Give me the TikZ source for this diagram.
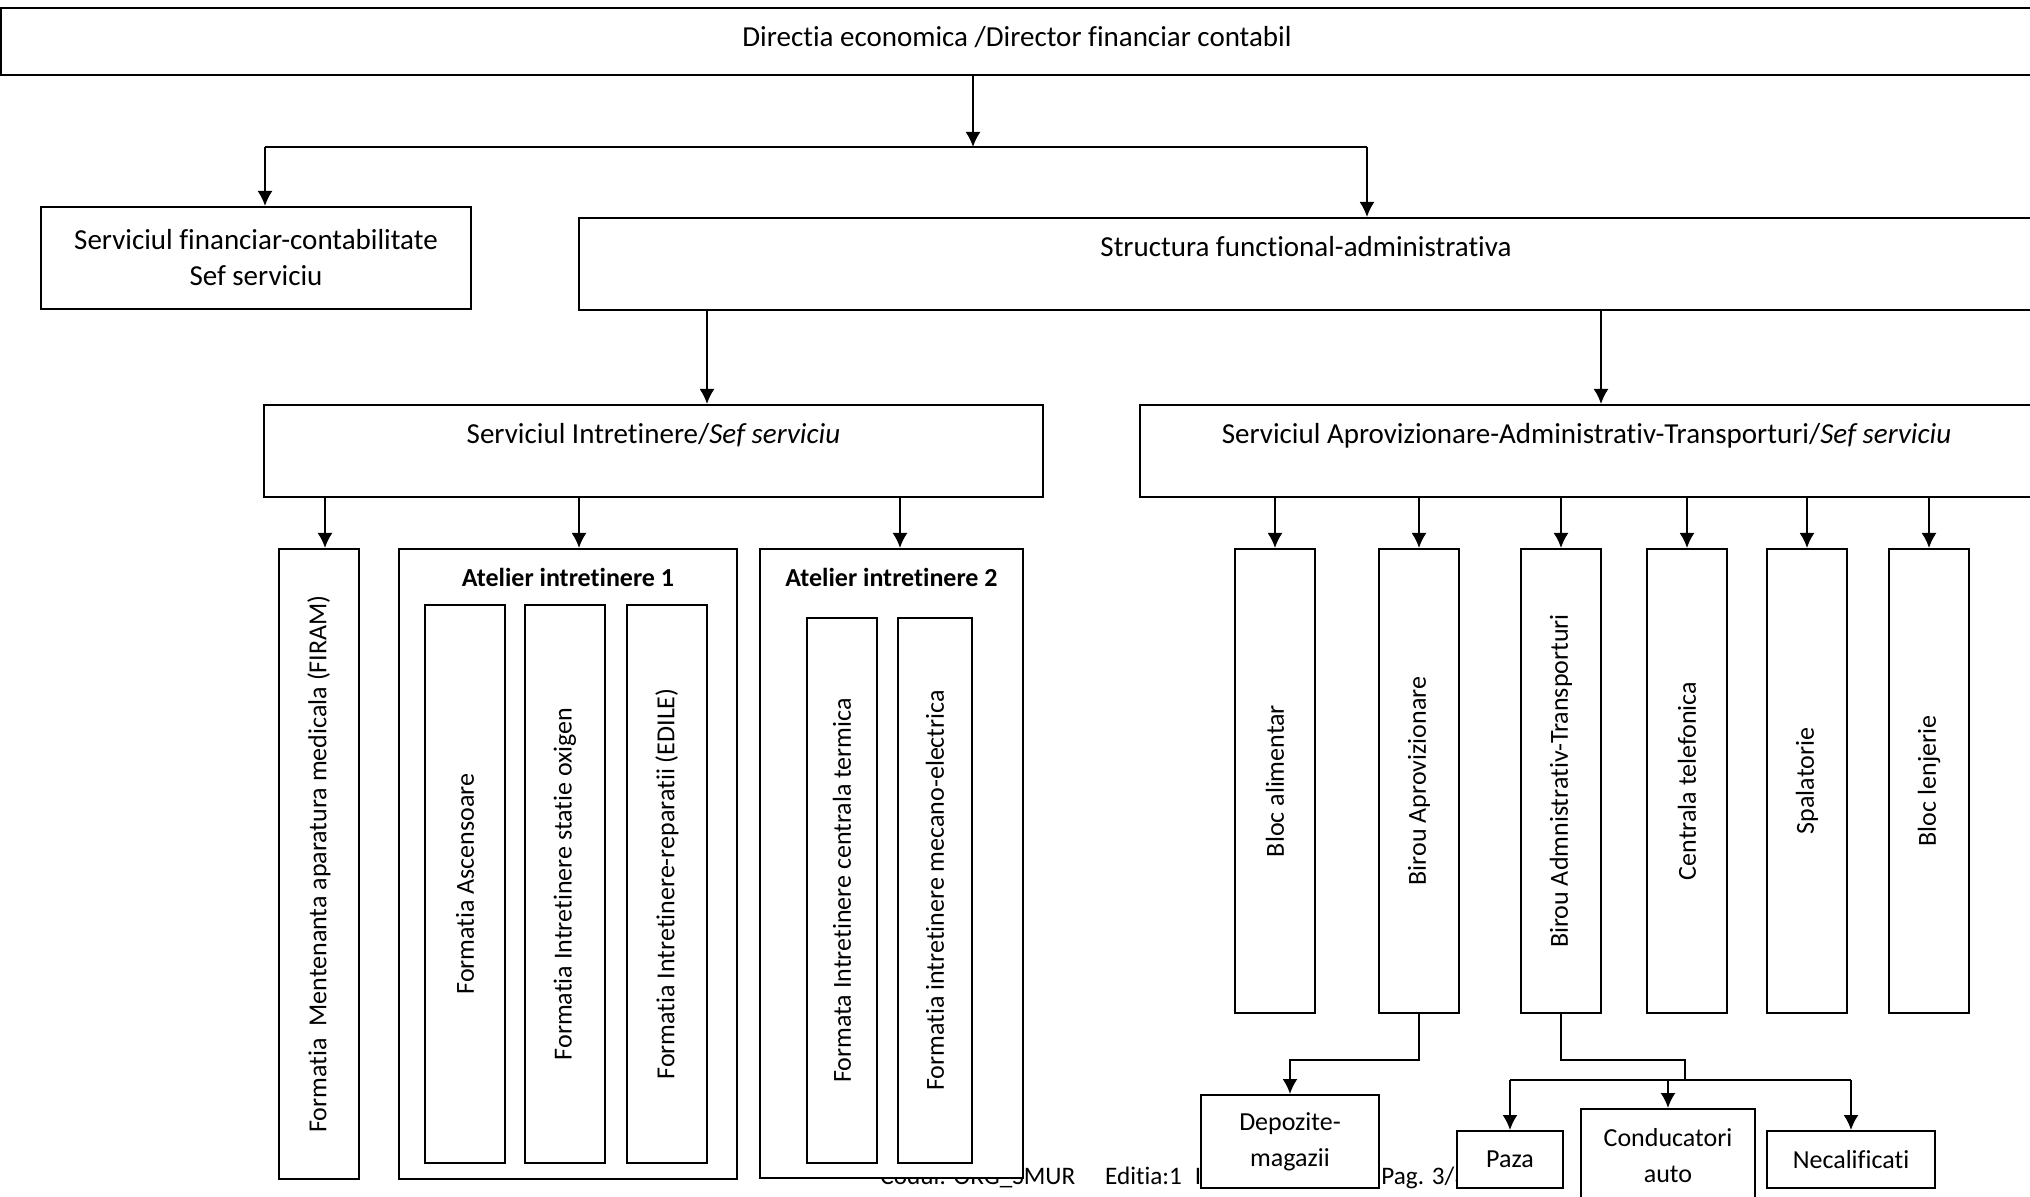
\documentclass[tikz,border=0pt]{standalone}
\usepackage{fontspec}
\setmainfont{Carlito}[Ligatures={NoCommon}]
\usepackage{graphicx}
\usetikzlibrary{arrows.meta}
\tikzset{
	big/.style={font=\fontsize{14.5}{18}\selectfont},
	small/.style={font=\fontsize{13}{18}\selectfont},
	foot/.style={font=\fontsize{12.6}{15}\selectfont, inner sep=0pt, anchor=base west},
	box/.style={draw, line width=1pt, fill=white, inner sep=0pt, align=center, small},
	toptext/.style={label={[big, anchor=base, yshift=-20pt, inner sep=0pt]north:{#1}}},
	title/.style={label={[small, anchor=base, yshift=-19.5pt, inner sep=0pt]north:{\bfseries #1}}},
	line/.style={line width=1pt},
	arr/.style={line width=1pt, -{Latex[length=7.5pt, width=7.5pt]}},
}
\newcommand{\vtext}[1]{\rotatebox{90}{#1}}

\begin{document}
\begin{tikzpicture}[x=0.5pt, y=-0.5pt]
	%%%%% START %%%%%
	\useasboundingbox (0,0) rectangle (2030,1197);
	
	% page footer, partly hidden by the boxes
	\node[foot] (codul) at (880,1184) {Codul: ORG\_SMUR\hspace{15pt}Editia:1\hspace{6.5pt}I};
	\node[foot] (pag) at (1381,1184) {Pag. 3/3};
	
	% upper levels
	\node[box, line width=1.3pt, minimum width=1016pt, minimum height=33.5pt, toptext={Directia economica /Director financiar contabil}] (dir) at (1017,41.5) {};
	\node[box, big, minimum width=215pt, minimum height=51pt] (fin) at (256,258) {Serviciul financiar-contabilitate\\Sef serviciu};
	\node[box, minimum width=727pt, minimum height=46pt, toptext={Structura functional-administrativa}] (struct) at (1306,264) {};
	\node[box, minimum width=389.5pt, minimum height=46pt, toptext={Serviciul Intretinere/\textit{Sef serviciu}}] (intr) at (653.5,451) {};
	\node[box, minimum width=446.5pt, minimum height=46pt, toptext={Serviciul Aprovizionare-Administrativ-Transporturi/\textit{Sef serviciu}}] (saat) at (1586.5,451) {};
	
	% Serviciul Intretinere
	\node[box, minimum width=40pt, minimum height=315pt] (firam) at (319,864) {\vtext{Formatia\ \ Mentenanta aparatura medicala (FIRAM)}};
	\node[box, minimum width=169pt, minimum height=315pt, title={Atelier intretinere 1}] (atA) at (568,864) {};
	\node[box, minimum width=40pt, minimum height=279pt] (asc) at (465,884) {\vtext{Formatia Ascensoare}};
	\node[box, minimum width=40pt, minimum height=279pt] (oxi) at (565,884) {\vtext{Formatia Intretinere statie oxigen}};
	\node[box, minimum width=40pt, minimum height=279pt] (edile) at (667,884) {\vtext{Formatia Intretinere-reparatii (EDILE)}};
	\node[box, minimum width=131.5pt, minimum height=314.5pt, title={Atelier intretinere 2}] (atB) at (891.5,863.5) {};
	\node[box, minimum width=35pt, minimum height=272.5pt] (term) at (842,890.5) {\vtext{Formata Intretinere centrala termica}};
	\node[box, minimum width=37pt, minimum height=272.5pt] (mec) at (935,890.5) {\vtext{Formatia intretinere mecano-electrica}};
	
	% Serviciul Aprovizionare-Administrativ-Transporturi
	\node[box, minimum width=40pt, minimum height=232pt] (alim) at (1275,781) {\vtext{Bloc alimentar}};
	\node[box, minimum width=40pt, minimum height=232pt] (aprov) at (1419,781) {\vtext{Birou Aprovizionare}};
	\node[box, minimum width=40pt, minimum height=232pt] (adm) at (1561,781) {\vtext{Birou Admnistrativ-Transporturi}};
	\node[box, minimum width=40pt, minimum height=232pt] (tel) at (1687,781) {\vtext{Centrala telefonica}};
	\node[box, minimum width=40pt, minimum height=232pt] (spal) at (1807,781) {\vtext{Spalatorie}};
	\node[box, minimum width=40pt, minimum height=232pt] (lenj) at (1929,781) {\vtext{Bloc lenjerie}};
	
	\node[box, minimum width=89pt, minimum height=46.5pt] (depo) at (1290,1141.5) {Depozite-\\magazii};
	\node[box, minimum width=53pt, minimum height=28.5pt] (paza) at (1510,1159.5) {Paza};
	\node[box, minimum width=87pt, minimum height=46.5pt] (cond) at (1668,1155.5) {Conducatori\\auto};
	\node[box, minimum width=84pt, minimum height=28.5pt] (necal) at (1851,1159.5) {Necalificati};
	
	% connectors
	\coordinate (split) at (973,147);
	\coordinate (jl) at (265,147);
	\coordinate (jr) at (1367,147);
	\draw[arr] (dir.south -| split) -- (split);
	\draw[line] (jl) -- (jr);
	\draw[arr] (jl) -- (jl |- fin.north);
	\draw[arr] (jr) -- (jr |- struct.north);
	
	\draw[arr] (707,0 |- struct.south) -- (707,0 |- intr.north);
	\draw[arr] (1601,0 |- struct.south) -- (1601,0 |- saat.north);
	
	\foreach \x/\n in {325/firam,579/atA,900/atB}
		\draw[arr] (\x,0 |- intr.south) -- (\x,0 |- \n.north);
	\foreach \n in {alim,aprov,adm,tel,spal,lenj}
		\draw[arr] (\n.north |- saat.south) -- (\n.north);
	
	\draw[arr] (aprov.south) -- ++(0,46) -| (depo.north);
	\coordinate (bus) at (1685,1080);
	\draw[line] (adm.south) -- ++(0,46) -| (bus);
	\draw[line] (paza.north |- bus) -- (necal.north |- bus);
	\foreach \n in {paza,cond,necal}
		\draw[arr] (\n.north |- bus) -- (\n.north);
	
	%%%%% END %%%%%
\end{tikzpicture}
\end{document}
